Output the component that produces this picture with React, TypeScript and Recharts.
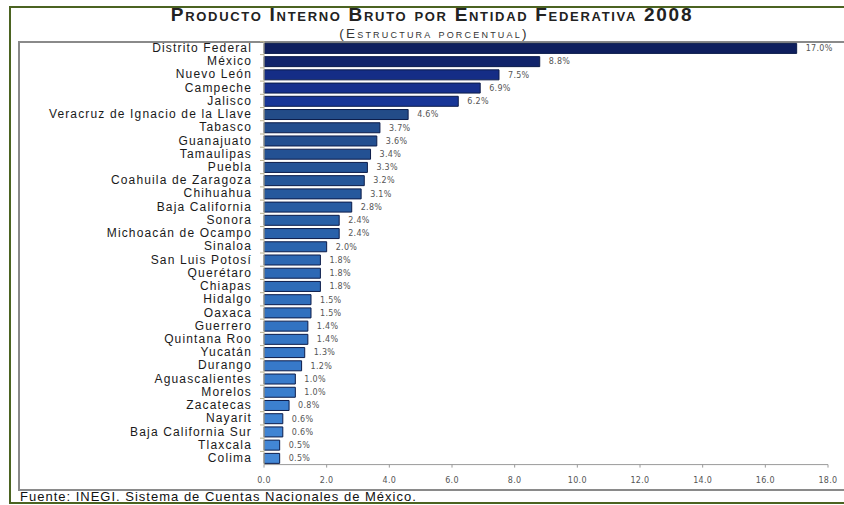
import React from "react";
import { BarChart, Bar, XAxis, YAxis, Cell, LabelList } from "recharts";

const categories = [
  "Distrito Federal", "México", "Nuevo León", "Campeche", "Jalisco",
  "Veracruz de Ignacio de la Llave", "Tabasco", "Guanajuato", "Tamaulipas", "Puebla",
  "Coahuila de Zaragoza", "Chihuahua", "Baja California", "Sonora", "Michoacán de Ocampo",
  "Sinaloa", "San Luis Potosí", "Querétaro", "Chiapas", "Hidalgo",
  "Oaxaca", "Guerrero", "Quintana Roo", "Yucatán", "Durango",
  "Aguascalientes", "Morelos", "Zacatecas", "Nayarit", "Baja California Sur",
  "Tlaxcala", "Colima",
];
const values = [
  17.0, 8.8, 7.5, 6.9, 6.2,
  4.6, 3.7, 3.6, 3.4, 3.3,
  3.2, 3.1, 2.8, 2.4, 2.4,
  2.0, 1.8, 1.8, 1.8, 1.5,
  1.5, 1.4, 1.4, 1.3, 1.2,
  1.0, 1.0, 0.8, 0.6, 0.6,
  0.5, 0.5,
];
const xTicks = [0, 2, 4, 6, 8, 10, 12, 14, 16, 18];

const palette = [
  "#0f1f5e", "#11246b", "#152d86", "#16308d", "#183697",
  "#234c88", "#224d8d", "#234f90", "#235193", "#245396",
  "#255699", "#26599d", "#275ca2", "#285fa6", "#2961aa",
  "#2a64ae", "#2c67b2", "#2d69b5", "#2e6cb8", "#306fbc",
  "#3171bf", "#3273c2", "#3475c4", "#3577c7", "#3779c9",
  "#387bcb", "#3a7ecd", "#3c80cf", "#3e82d1", "#4084d3",
  "#4286d5", "#4488d7",
];

const data = categories.map((name, i) => ({ name, value: values[i] }));

const YTick = (props: any) => {
  const { x, y, payload } = props;
  const half = 6.6;
  return (
    <g>
      <line x1={x + 2} x2={x + 6} y1={y - half} y2={y - half} stroke="#b8b090" strokeWidth={1} />
      <text
        x={x - 6}
        y={y}
        dy={4}
        textAnchor="end"
        fontFamily="'Liberation Sans', Arial, sans-serif"
        fontSize={12}
        letterSpacing={1.15}
        fill="#1a1a1a"
      >
        {payload.value}
      </text>
    </g>
  );
};

const font = "'Liberation Sans', Arial, sans-serif";

export default function App() {
  return (
    <div style={{ position: "absolute", left: 0, top: 0, width: 844, height: 505, background: "#fff", overflow: "hidden" }}>
      <div style={{ position: "absolute", left: 9, top: 6, width: 860, height: 498, borderLeft: "2px solid #4b6321", borderTop: "2px solid #4b6321", borderBottom: "2px solid #4b6321", boxSizing: "border-box" }} />
      <div style={{ position: "absolute", left: 18, top: 41, width: 860, height: 450, borderLeft: "2px solid #8a8a8a", borderTop: "2px solid #8a8a8a", borderBottom: "2px solid #8a8a8a", boxSizing: "border-box" }} />
      <div style={{ position: "absolute", left: 0, top: 5, width: 864, textAlign: "center", fontFamily: font, fontWeight: "bold", fontSize: 19, letterSpacing: 1.7, fontVariant: "small-caps", color: "#222", lineHeight: "20px" }}>
        Producto Interno Bruto por Entidad Federativa 2008
      </div>
      <div style={{ position: "absolute", left: 0, top: 28, width: 868, textAlign: "center", fontFamily: font, fontSize: 13.5, letterSpacing: 2.2, fontVariant: "small-caps", color: "#333", lineHeight: "12px" }}>
        (Estructura porcentual)
      </div>
      <div style={{ position: "absolute", left: 20, top: 489, fontFamily: font, fontSize: 13, letterSpacing: 1.0, color: "#111", lineHeight: "15px" }}>
        Fuente: INEGI. Sistema de Cuentas Nacionales de México.
      </div>
      <div style={{ position: "absolute", left: 0, top: 0 }}>
        <BarChart
          width={844}
          height={505}
          data={data}
          layout="vertical"
          margin={{ top: 41.4, right: 16, bottom: 10, left: 0 }}
          barSize={10}
        >
          <XAxis
            type="number"
            domain={[0, 18]}
            ticks={xTicks}
            tickFormatter={(v: number) => v.toFixed(1)}
            height={30.4}
            stroke="#9a9a9a"
            tickSize={3}
            tickMargin={10}
            tick={{ fontSize: 8, fill: "#555", fontFamily: "'DejaVu Sans', Verdana, sans-serif", letterSpacing: 0.3 }}
            interval={0}
          />
          <YAxis
            type="category"
            dataKey="name"
            width={264}
            tickLine={false}
            axisLine={{ stroke: "#c8c0a0" }}
            tickMargin={0}
            tick={<YTick />}
            interval={0}
          />
          <Bar dataKey="value" isAnimationActive={false} strokeWidth={1}>
            {data.map((d, i) => (
              <Cell key={d.name} fill={palette[i]} stroke="#0c1c4a" />
            ))}
            <LabelList
              dataKey="value"
              position="right"
              offset={9}
              formatter={(v: number) => v.toFixed(1) + "%"}
              style={{ fontSize: 8, fill: "#555", fontFamily: "'DejaVu Sans', Verdana, sans-serif", letterSpacing: 0.3 }}
            />
          </Bar>
        </BarChart>
      </div>
    </div>
  );
}
